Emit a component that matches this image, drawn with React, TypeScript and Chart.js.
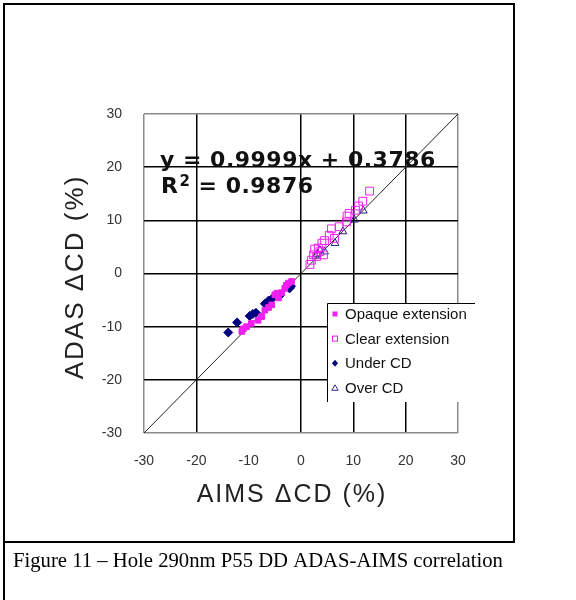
import React, { useEffect, useRef } from 'react';
import { Chart, registerables } from 'chart.js';

Chart.register(...registerables);

// ---- data ----
const opaqueX = [-11.3, -11.0, -10.4, -9.5, -8.2, -7.5, -6.9, -6.2, -5.6, -5.0, -4.6, -4.3, -3.7, -3.1, -2.8, -2.4, -1.8];
const opaqueY = [-10.9, -10.4, -10.0, -9.4, -8.8, -8.1, -6.9, -6.4, -5.9, -4.0, -3.7, -4.6, -3.6, -2.8, -2.2, -1.8, -1.5];

const clearX = [13.1, 11.8, 11.0, 10.4, 9.2, 8.8, 8.7, 7.3, 6.4, 5.8, 5.4, 4.5, 4.3, 4.0, 3.6, 3.3, 3.0, 2.6, 2.4, 2.0, 1.7];
const clearY = [15.5, 13.6, 12.7, 11.9, 11.3, 10.8, 9.7, 8.8, 6.6, 8.4, 7.2, 6.2, 3.5, 5.7, 4.1, 4.8, 3.2, 4.6, 3.5, 2.5, 1.7];

const underX = [-13.9, -12.2, -9.8, -9.2, -8.6, -6.9, -6.2, -5.6, -4.0, -2.2, -1.9];
const underY = [-11.1, -9.2, -8.0, -7.6, -7.4, -5.7, -5.1, -4.8, -4.1, -2.8, -2.4];

const overX = [11.9, 10.2, 8.0, 6.5, 4.5, 3.6, 3.1, 2.8];
const overY = [11.8, 10.1, 7.9, 5.7, 4.1, 4.4, 3.6, 3.3];

const identityX = [-30, 30];
const identityY = [-30, 30];

const axisTicks = [-30, -20, -10, 0, 10, 20, 30];
const hiddenXGrid = [-10];

const seriesNames = ['Opaque extension', 'Clear extension', 'Under CD', 'Over CD'];
const equationLine = 'y = 0.9999x + 0.3786';
const r2Text = '0.9876';
const xTitle = 'AIMS \u0394CD (%)';
const yTitle = 'ADAS \u0394CD (%)';
const captionText = 'Figure 11 \u2013 Hole 290nm P55 DD ADAS-AIMS correlation';

const MAGENTA = '#f020f0';
const NAVY = '#000080';

const toPoints = (xs: number[], ys: number[]) => xs.map((x, i) => ({ x, y: ys[i] }));

function legendMarker(ctx: CanvasRenderingContext2D, kind: number, x: number, y: number) {
  ctx.save();
  ctx.lineWidth = 1;
  if (kind === 0) {
    ctx.fillStyle = MAGENTA;
    ctx.fillRect(x - 2.5, y - 2.5, 5, 5);
  } else if (kind === 1) {
    ctx.strokeStyle = MAGENTA;
    ctx.strokeRect(x - 2.5, y - 2.5, 5, 5);
  } else if (kind === 2) {
    ctx.fillStyle = NAVY;
    ctx.beginPath();
    ctx.moveTo(x, y - 3.5);
    ctx.lineTo(x + 3, y);
    ctx.lineTo(x, y + 3.5);
    ctx.lineTo(x - 3, y);
    ctx.closePath();
    ctx.fill();
  } else {
    ctx.strokeStyle = '#303090';
    ctx.beginPath();
    ctx.moveTo(x, y - 3);
    ctx.lineTo(x + 3.2, y + 2.5);
    ctx.lineTo(x - 3.2, y + 2.5);
    ctx.closePath();
    ctx.stroke();
  }
  ctx.restore();
}

const overlayPlugin = {
  id: 'overlay',
  afterDraw(chart: any) {
    const ctx: CanvasRenderingContext2D = chart.ctx;
    ctx.save();

    // outer figure frame
    ctx.strokeStyle = '#000';
    ctx.lineWidth = 2;
    ctx.beginPath();
    ctx.moveTo(4, 600);
    ctx.lineTo(4, 4);
    ctx.lineTo(514, 4);
    ctx.lineTo(514, 542);
    ctx.lineTo(4, 542);
    ctx.stroke();

    // caption
    ctx.fillStyle = '#000';
    ctx.font = '20.7px "Liberation Serif"';
    ctx.textAlign = 'left';
    ctx.textBaseline = 'alphabetic';
    ctx.fillText(captionText, 13, 567);

    // regression equation
    ctx.fillStyle = '#111';
    (ctx as any).letterSpacing = '0.5px';
    ctx.font = 'bold 22px "DejaVu Sans"';
    ctx.fillText(equationLine, 160, 167);
    ctx.fillText('R', 161, 193);
    const rw = ctx.measureText('R').width;
    ctx.font = 'bold 15px "DejaVu Sans"';
    ctx.fillText('2', 161 + rw + 1, 186);
    const sw = ctx.measureText('2').width;
    ctx.font = 'bold 22px "DejaVu Sans"';
    ctx.fillText(' = ' + r2Text, 161 + rw + 1 + sw, 193);

    // axis titles
    ctx.fillStyle = '#222';
    ctx.font = '25px "Liberation Sans"';
    (ctx as any).letterSpacing = '2px';
    ctx.textAlign = 'center';
    ctx.fillText(xTitle, 292, 502);
    ctx.save();
    ctx.translate(83, 277);
    ctx.rotate(-Math.PI / 2);
    ctx.font = '26px "Liberation Sans"';
    ctx.fillText(yTitle, 0, 0);
    ctx.restore();
    (ctx as any).letterSpacing = '0px';

    // legend box
    ctx.fillStyle = '#fff';
    ctx.fillRect(327, 303, 148, 99);
    ctx.strokeStyle = '#000';
    ctx.lineWidth = 1;
    ctx.beginPath();
    ctx.moveTo(327.5, 402);
    ctx.lineTo(327.5, 303.5);
    ctx.lineTo(475, 303.5);
    ctx.stroke();
    ctx.font = '15px "Liberation Sans"';
    ctx.textAlign = 'left';
    ctx.textBaseline = 'middle';
    ctx.fillStyle = '#111';
    seriesNames.forEach((name, i) => {
      const cy = 314 + i * 24.6;
      legendMarker(ctx, i, 335, cy);
      ctx.fillText(name, 345, cy + 1);
    });

    ctx.restore();
  },
};

export default function App() {
  const ref = useRef<HTMLCanvasElement>(null);

  useEffect(() => {
    const gridColor = (ctx: any, hidden: number[]) => {
      const v = ctx.tick ? ctx.tick.value : 0;
      if (v === -30 || v === 30) return '#8a8a8a';
      if (hidden.includes(v)) return 'rgba(0,0,0,0)';
      return '#000';
    };
    const tickFont = { family: '"Liberation Sans", Arial, sans-serif', size: 14 };

    const chart = new Chart(ref.current as HTMLCanvasElement, {
      type: 'scatter',
      data: {
        datasets: [
          {
            label: seriesNames[0],
            data: toPoints(opaqueX, opaqueY),
            pointStyle: 'rect',
            pointRadius: 4,
            backgroundColor: MAGENTA,
            borderColor: MAGENTA,
            borderWidth: 1,
          },
          {
            label: seriesNames[2],
            data: toPoints(underX, underY),
            pointStyle: 'rectRot',
            pointRadius: 4.5,
            backgroundColor: NAVY,
            borderColor: NAVY,
            borderWidth: 1,
          },
          {
            label: seriesNames[1],
            data: toPoints(clearX, clearY),
            pointStyle: 'rect',
            pointRadius: 5.5,
            backgroundColor: 'rgba(0,0,0,0)',
            borderColor: MAGENTA,
            borderWidth: 1,
          },
          {
            label: seriesNames[3],
            data: toPoints(overX, overY),
            pointStyle: 'triangle',
            pointRadius: 4.5,
            backgroundColor: 'rgba(0,0,0,0)',
            borderColor: '#202080',
            borderWidth: 1,
          },
          {
            label: 'identity',
            data: toPoints(identityX, identityY),
            showLine: true,
            pointRadius: 0,
            borderColor: '#222',
            borderWidth: 1,
          },
        ],
      },
      options: {
        responsive: false,
        animation: false,
        devicePixelRatio: 1,
        layout: { padding: { left: 0, top: 114, right: 118, bottom: 0 } },
        plugins: { legend: { display: false }, tooltip: { enabled: false } },
        scales: {
          x: {
            type: 'linear',
            min: -30,
            max: 30,
            afterFit: (s: any) => { s.height = 167; },
            afterBuildTicks: (s: any) => { s.ticks = axisTicks.map((v) => ({ value: v })); },
            grid: {
              drawTicks: false,
              color: (c: any) => gridColor(c, hiddenXGrid),
              lineWidth: 1.5,
            },
            border: { display: false },
            ticks: { padding: 20, color: '#333', font: tickFont, maxRotation: 0, autoSkip: false },
          },
          y: {
            type: 'linear',
            min: -30,
            max: 30,
            afterFit: (s: any) => { s.width = 144; },
            afterBuildTicks: (s: any) => { s.ticks = axisTicks.map((v) => ({ value: v })); },
            grid: {
              drawTicks: false,
              color: (c: any) => gridColor(c, []),
              lineWidth: 1.5,
            },
            border: { display: false },
            ticks: { padding: 22, color: '#333', font: tickFont, autoSkip: false },
          },
        },
      },
      plugins: [overlayPlugin],
    } as any);

    return () => chart.destroy();
  }, []);

  return (
    <div style={{ position: 'absolute', left: 0, top: 0, width: 576, height: 600, background: '#fff' }}>
      <canvas ref={ref} width={576} height={600} style={{ display: 'block' }} />
    </div>
  );
}
